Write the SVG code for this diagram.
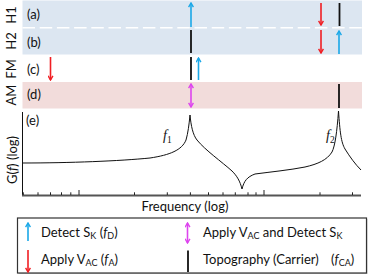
<svg xmlns="http://www.w3.org/2000/svg" width="374" height="280" viewBox="0 0 374 280">
<style>
text{font-family:Lato,"Liberation Sans",sans-serif;font-size:13px;fill:#111}
.sub{font-size:9px}
.it{font-style:italic}
.fl{font-family:"Liberation Serif",serif;font-size:14px;font-style:italic}
.fs{font-family:"Liberation Serif",serif;font-size:9.5px;font-style:normal}
.cy{stroke:#1AA8E8;stroke-width:1.6;fill:none}
.rd{stroke:#F01E23;stroke-width:1.6;fill:none}
.mg{stroke:#DD44EE;stroke-width:1.6;fill:none}
.bk{stroke:#111;stroke-width:1.8;fill:none}
.tk{stroke:#222;stroke-width:1}
</style>
<defs>
<marker id="hc" viewBox="0 0 6 6" refX="5" refY="3" markerWidth="6" markerHeight="6" markerUnits="userSpaceOnUse" orient="auto-start-reverse"><path d="M0.8,0.6 L5,3 L0.8,5.4" fill="none" stroke="#1AA8E8" stroke-width="1.4"/></marker>
<marker id="hr" viewBox="0 0 6 6" refX="5" refY="3" markerWidth="6" markerHeight="6" markerUnits="userSpaceOnUse" orient="auto-start-reverse"><path d="M0.8,0.6 L5,3 L0.8,5.4" fill="none" stroke="#F01E23" stroke-width="1.4"/></marker>
<marker id="hm" viewBox="0 0 6 6" refX="5" refY="3" markerWidth="6" markerHeight="6" markerUnits="userSpaceOnUse" orient="auto-start-reverse"><path d="M0.8,0.6 L5,3 L0.8,5.4" fill="none" stroke="#DD44EE" stroke-width="1.4"/></marker>
</defs>

<g id="bands">
<rect x="22.5" y="0.5" width="339.5" height="54" fill="#DCE6F1"/>
<line x1="22.5" y1="27.7" x2="362" y2="27.7" stroke="#fff" stroke-width="1.6" stroke-dasharray="12.5 4.7"/>
<rect x="22.5" y="82" width="339.5" height="26.5" fill="#F2DCDB"/>
</g>

<g id="row-labels">
<text transform="translate(15.5,15) rotate(-90)" text-anchor="middle">H1</text>
<text transform="translate(15.5,41) rotate(-90)" text-anchor="middle">H2</text>
<text transform="translate(15.5,69) rotate(-90)" text-anchor="middle">FM</text>
<text transform="translate(15.5,95) rotate(-90)" text-anchor="middle">AM</text>
<text x="27" y="19">(a)</text>
<text x="27" y="47">(b)</text>
<text x="27" y="74">(c)</text>
<text x="27" y="99">(d)</text>
</g>

<g id="connectors">
<line class="cy" x1="191" y1="27" x2="191" y2="3" marker-end="url(#hc)"/>
<line class="bk" x1="191" y1="30" x2="191" y2="53"/>
<line class="bk" x1="191" y1="57" x2="191" y2="80"/>
<line class="cy" x1="198.5" y1="80" x2="198.5" y2="58" marker-end="url(#hc)"/>
<line class="rd" x1="50.5" y1="57" x2="50.5" y2="80" marker-end="url(#hr)"/>
<line class="mg" x1="191" y1="84" x2="191" y2="107" marker-start="url(#hm)" marker-end="url(#hm)"/>
<line class="rd" x1="321" y1="3" x2="321" y2="25" marker-end="url(#hr)"/>
<line class="bk" x1="339.5" y1="3" x2="339.5" y2="26"/>
<line class="rd" x1="321" y1="30" x2="321" y2="53" marker-end="url(#hr)"/>
<line class="cy" x1="339" y1="54" x2="339" y2="31" marker-end="url(#hc)"/>
<line class="bk" x1="339" y1="84" x2="339" y2="108"/>
</g>

<g id="graph">
<line x1="22.5" y1="112" x2="22.5" y2="196" stroke="#111" stroke-width="1"/>
<line x1="22" y1="195.5" x2="361" y2="195.5" stroke="#555" stroke-width="2"/>
<path class="tk" d="M23.3,195V192.3M38,195V192.3M50.5,195V192.3M61.5,195V192.3M70.8,195V192.3M79,195V190M134.5,195V192.3M167.3,195V192.3M190.4,195V192.3M208.5,195V192.3M223,195V192.3M235.3,195V192.3M248,195V192.3M256,195V192.3M264,195V190M320,195V192.3M352.5,195V192.3"/>
<path d="M22,163 C70,163 120,161 150,158 C170,155 182,150 186,140 C188,133 189,125 190,115 C191,126 193,135 197,140 C205,150 222,162 232,171 C237,176 240,181 242,189 C244,181 247,177 255,174 C270,172 290,170 305,167 C318,164 327,160 332,152 C335,146 337,132 338.5,111 C340,132 341,142 345,149 C350,157 355,164 361,170" fill="none" stroke="#111" stroke-width="1"/>
<text x="26" y="125">(e)</text>
<text transform="translate(16.5,160) rotate(-90)" text-anchor="middle">G(<tspan class="it">f</tspan>) (log)</text>
<text x="163" y="140" class="fl">f<tspan class="fs" dy="3">1</tspan></text>
<text x="326" y="140" class="fl">f<tspan class="fs" dy="3">2</tspan></text>
<text x="185" y="211" text-anchor="middle">Frequency (log)</text>
</g>

<g id="legend">
<rect x="18.5" y="219" width="349" height="55" fill="#888" opacity="0.5"/>
<rect x="17.5" y="218" width="349" height="55" fill="#fff" stroke="#333" stroke-width="1.2"/>
<line class="cy" x1="28" y1="241" x2="28" y2="223" marker-end="url(#hc)"/>
<text x="41" y="237">Detect S<tspan class="sub" dy="2">K</tspan><tspan dy="-2"> (</tspan><tspan class="it">f</tspan><tspan class="sub" dy="2">D</tspan><tspan dy="-2">)</tspan></text>
<line class="rd" x1="28" y1="250" x2="28" y2="272" marker-end="url(#hr)"/>
<text x="41" y="264">Apply V<tspan class="sub" dy="2">AC</tspan><tspan dy="-2"> (</tspan><tspan class="it">f</tspan><tspan class="sub" dy="2">A</tspan><tspan dy="-2">)</tspan></text>
<line class="mg" x1="187.5" y1="223" x2="187.5" y2="243" marker-start="url(#hm)" marker-end="url(#hm)"/>
<text x="203" y="237">Apply V<tspan class="sub" dy="2">AC</tspan><tspan dy="-2"> and Detect S</tspan><tspan class="sub" dy="2">K</tspan></text>
<line class="bk" x1="188" y1="250.5" x2="188" y2="272"/>
<text x="203" y="264">Topography (Carrier)</text>
<text x="331" y="264">(<tspan class="it">f</tspan><tspan class="sub" dy="2">CA</tspan><tspan dy="-2">)</tspan></text>
</g>
</svg>
